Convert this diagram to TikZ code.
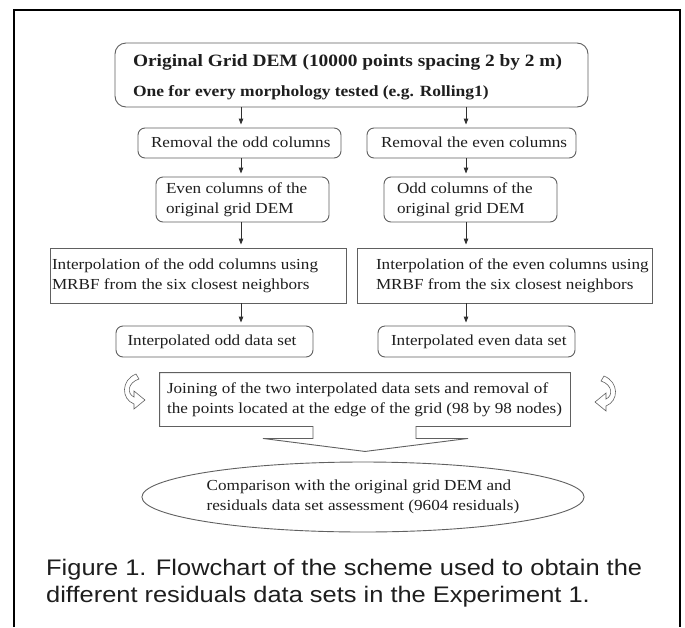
\documentclass[tikz,border=0pt]{standalone}
\usepackage{fontspec}
\setmainfont{Liberation Serif}[FakeStretch=1.12]
\newfontfamily\capfont{Liberation Sans}[FakeStretch=1.13]
\usetikzlibrary{arrows.meta,shapes.geometric,calc}
\definecolor{boxgray}{HTML}{606060}
\definecolor{arrgray}{HTML}{303030}
\definecolor{txt}{HTML}{1E1E1E}
\newcommand\lbx[3]{\makebox[#1][l]{\hspace*{#2}\begin{tabular}{@{}l@{}}#3\end{tabular}}}
\tikzset{
  rbox/.style={draw=boxgray, line width=0.9pt, rounded corners=7pt, inner sep=0pt,
    text=txt, font=\fontsize{15.3}{20}\selectfont},
  sbox/.style={rbox, rounded corners=0pt},
  arr/.style={draw=arrgray, line width=0.9pt, shorten >=3pt,
    -{Triangle[length=6pt,width=4.5pt]}},
  curv/.style={draw=boxgray, fill=white, line width=0.6pt},
}
\begin{document}
\begin{tikzpicture}[x=1pt,y=-1pt]
\useasboundingbox (0,0) rectangle (685,627);
\fill[white] (0,0) rectangle (685,627);
% frame
\draw[black, line width=1.8pt] (14,627) -- (14,10) -- (680,10) -- (680,627);

\coordinate (colL) at (241,0);
\coordinate (colR) at (466,0);

\node[rbox, rounded corners=11pt, minimum width=473pt, minimum height=64pt] (top) at (351.5,75)
 {\fontsize{17.3}{30}\selectfont\bfseries
  \lbx{473pt}{18pt}{Original Grid DEM (10000 points spacing 2 by 2 m)\\
  \fontsize{15.6}{30}\selectfont\bfseries One for every morphology tested (e.g. Rolling1)}};

\node[rbox, minimum width=203pt, minimum height=30pt] (rmL) at (239.5,143)
 {\lbx{203pt}{13pt}{Removal the odd columns}};
\node[rbox, minimum width=209pt, minimum height=30pt] (rmR) at (471.5,143)
 {\lbx{209pt}{14pt}{Removal the even columns}};

\node[rbox, minimum width=173pt, minimum height=45pt] (evL) at (242.5,199.5)
 {\lbx{173pt}{10pt}{Even columns of the\\original grid DEM}};
\node[rbox, minimum width=173pt, minimum height=45pt] (evR) at (470.5,199.5)
 {\lbx{173pt}{13pt}{Odd columns of the\\original grid DEM}};

\node[sbox, minimum width=296pt, minimum height=55pt] (inL) at (198,275.5)
 {\lbx{296pt}{2pt}{Interpolation of the odd columns using\\MRBF from the six closest neighbors}};
\node[sbox, minimum width=295pt, minimum height=55pt] (inR) at (504.5,275.5)
 {\lbx{295pt}{19pt}{Interpolation of the even columns using\\MRBF from the six closest neighbors}};

\node[rbox, minimum width=197pt, minimum height=31pt] (ipL) at (214.5,341.5)
 {\lbx{197pt}{11.5pt}{Interpolated odd data set}};
\node[rbox, minimum width=197pt, minimum height=31pt] (ipR) at (476.5,341.5)
 {\lbx{197pt}{13pt}{Interpolated even data set}};

\node[rbox, draw=none, minimum width=410pt, minimum height=53pt] (join) at (365,399.5)
 {\lbx{410pt}{7pt}{Joining of the two interpolated data sets and removal of\\the points located at the edge of the grid (98 by 98 nodes)}};
\draw[draw=boxgray, line width=0.9pt]
  ($(join.south)+(-52,0)$) -- (join.south west) -- (join.north west) -- (join.north east)
  -- (join.south east) -- ($(join.south)+(51,0)$) -- ($(join.south)+(51,12)$)
  -- ($(join.south)+(103,12)$) -- ($(join.south)+(0,25)$) coordinate (tip)
  -- ($(join.south)+(-102,12)$) -- ($(join.south)+(-52,12)$) -- cycle;

\node[ellipse, draw=boxgray, line width=0.9pt, minimum width=396pt, minimum height=70pt,
  inner sep=0pt, text=txt, font=\fontsize{15.3}{20}\selectfont, align=left] (cmp) at (363,497)
 {Comparison with the original grid DEM and\\residuals data set assessment (9604 residuals)};

% arrows
\draw[arr] (top.south -| colL) -- (rmL.north -| colL);
\draw[arr] (top.south -| colR) -- (rmR.north -| colR);
\draw[arr] (rmL.south -| colL) -- (evL.north -| colL);
\draw[arr] (rmR.south -| colR) -- (evR.north -| colR);
\draw[arr] (evL.south -| colL) -- (inL.north -| colL);
\draw[arr] (evR.south -| colR) -- (inR.north -| colR);
\draw[arr] (inL.south -| colL) -- (ipL.north -| colL);
\draw[arr] (inR.south -| colR) -- (ipR.north -| colR);

% curved hollow arrows
\path[curv] (136,374) .. controls (121,380) and (121,399) .. (134,404)
  -- (134,409) -- (145,400) -- (134,391) -- (134,397)
  .. controls (127,394) and (127,383) .. (139,379) -- cycle;
\begin{scope}[shift={(740,2)}, xscale=-1]
\path[curv] (136,374) .. controls (121,380) and (121,399) .. (134,404)
  -- (134,409) -- (145,400) -- (134,391) -- (134,397)
  .. controls (127,394) and (127,383) .. (139,379) -- cycle;
\end{scope}

% caption
\node[anchor=base west, inner sep=0pt, text=txt, font=\capfont\fontsize{22.5}{27}\selectfont] (cap) at (46,575)
 {\begin{tabular}[t]{@{}l@{}}Figure 1. Flowchart of the scheme used to obtain the\\
  different residuals data sets in the Experiment 1.\end{tabular}};
\end{tikzpicture}
\end{document}
